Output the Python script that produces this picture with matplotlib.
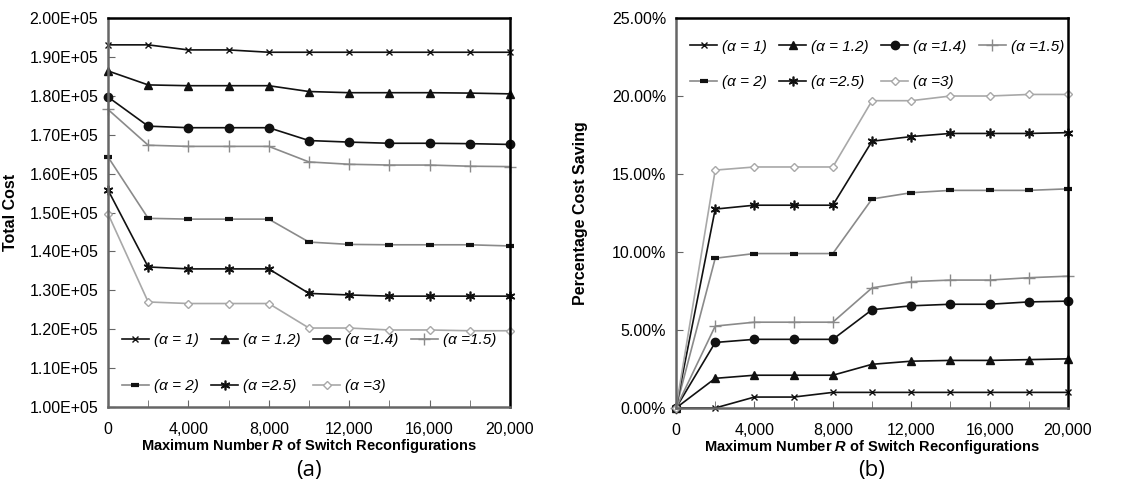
import matplotlib
matplotlib.use("Agg")
import matplotlib.pyplot as plt
from matplotlib.ticker import FuncFormatter, MultipleLocator

plt.rcParams['font.family'] = ['Liberation Sans', 'DejaVu Sans']
plt.rcParams['mathtext.fontset'] = 'custom'
plt.rcParams['mathtext.it'] = 'Liberation Sans:italic:bold'
plt.rcParams['mathtext.rm'] = 'Liberation Sans:bold'

R = [0, 2000, 4000, 6000, 8000, 10000, 12000, 14000, 16000, 18000, 20000]

labels = ["(α = 1)", "(α = 1.2)", "(α =1.4)", "(α =1.5)", "(α = 2)", "(α =2.5)", "(α =3)"]

cost_a1 = [1.931e5, 1.931e5, 1.918e5, 1.918e5, 1.912e5, 1.912e5, 1.912e5, 1.912e5, 1.912e5, 1.912e5, 1.912e5]
cost_a12 = [1.864e5, 1.828e5, 1.826e5, 1.826e5, 1.826e5, 1.811e5, 1.808e5, 1.808e5, 1.808e5, 1.807e5, 1.805e5]
cost_a14 = [1.797e5, 1.722e5, 1.718e5, 1.718e5, 1.718e5, 1.685e5, 1.681e5, 1.678e5, 1.678e5, 1.677e5, 1.675e5]
cost_a15 = [1.765e5, 1.673e5, 1.670e5, 1.670e5, 1.670e5, 1.630e5, 1.624e5, 1.622e5, 1.622e5, 1.619e5, 1.618e5]
cost_a2 = [1.643e5, 1.485e5, 1.483e5, 1.483e5, 1.483e5, 1.424e5, 1.418e5, 1.417e5, 1.417e5, 1.417e5, 1.414e5]
cost_a25 = [1.558e5, 1.360e5, 1.355e5, 1.355e5, 1.355e5, 1.292e5, 1.288e5, 1.285e5, 1.285e5, 1.285e5, 1.285e5]
cost_a3 = [1.497e5, 1.270e5, 1.266e5, 1.266e5, 1.266e5, 1.203e5, 1.203e5, 1.198e5, 1.198e5, 1.196e5, 1.196e5]

save_a1 = [0.0, 0.0, 0.7, 0.7, 1.0, 1.0, 1.0, 1.0, 1.0, 1.0, 1.0]
save_a12 = [0.0, 1.9, 2.1, 2.1, 2.1, 2.8, 3.0, 3.05, 3.05, 3.1, 3.15]
save_a14 = [0.0, 4.2, 4.4, 4.4, 4.4, 6.3, 6.55, 6.65, 6.65, 6.8, 6.85]
save_a15 = [0.0, 5.25, 5.5, 5.5, 5.5, 7.7, 8.1, 8.2, 8.2, 8.35, 8.45]
save_a2 = [0.0, 9.6, 9.9, 9.9, 9.9, 13.4, 13.8, 13.95, 13.95, 13.95, 14.05]
save_a25 = [0.0, 12.75, 13.0, 13.0, 13.0, 17.1, 17.4, 17.6, 17.6, 17.6, 17.65]
save_a3 = [0.0, 15.25, 15.45, 15.45, 15.45, 19.7, 19.7, 20.0, 20.0, 20.1, 20.1]

costs = [cost_a1, cost_a12, cost_a14, cost_a15, cost_a2, cost_a25, cost_a3]
savings = [save_a1, save_a12, save_a14, save_a15, save_a2, save_a25, save_a3]

styles = [
    dict(color='#111111', marker='x', ms=5, mew=1.0, mfc='#111111'),
    dict(color='#111111', marker='^', ms=6, mew=1.0, mfc='#111111'),
    dict(color='#111111', marker='o', ms=6, mew=1.0, mfc='#111111'),
    dict(color='#8a8a8a', marker='+', ms=8, mew=1.0, mfc='#8a8a8a'),
    dict(color='#8a8a8a', marker='_', ms=6, mew=3.0, mec='#111111'),
    dict(color='#111111', marker=(6, 2, 0), ms=7, mew=1.2, mfc='#111111'),
    dict(color='#a8a8a8', marker='D', ms=4, mew=1.0, mfc='white'),
]

fig = plt.figure(figsize=(11.45, 4.95), dpi=100)
ax1 = fig.add_axes([0.0943, 0.1778, 0.3511, 0.7858])
ax2 = fig.add_axes([0.5904, 0.1758, 0.3424, 0.7878])

def style_axes(ax):
    ax.set_xlim(0, 20000)
    ax.xaxis.set_major_locator(MultipleLocator(4000))
    ax.xaxis.set_minor_locator(MultipleLocator(2000))
    ax.xaxis.set_major_formatter(FuncFormatter(lambda v, p: f"{int(v):,}"))
    ax.tick_params(axis='both', which='both', direction='in', colors='#666666',
                   labelcolor='black', labelsize=11.5)
    ax.tick_params(axis='x', which='both', length=5, pad=11)
    ax.tick_params(axis='y', which='both', length=5, pad=7)
    for s in ['top', 'right']:
        ax.spines[s].set_color('black')
        ax.spines[s].set_linewidth(1.8)
    for s in ['left', 'bottom']:
        ax.spines[s].set_color('#666666')
        ax.spines[s].set_linewidth(1.8)
    ax.set_xlabel("Maximum Number $\\it{R}$ of Switch Reconfigurations",
                  fontsize=10.5, fontweight='bold', labelpad=0)
    ax.yaxis.set_label_coords(-0.224, 0.5)

lines1 = []
for ys, st, lab in zip(costs, styles, labels):
    l, = ax1.plot(R, ys, lw=1.2, label=lab, clip_on=False, **st)
    lines1.append(l)
ax1.set_ylim(1.0e5, 2.0e5)
ax1.yaxis.set_major_locator(MultipleLocator(0.1e5))
ax1.yaxis.set_major_formatter(FuncFormatter(lambda v, p: f"{v:.2E}"))
ax1.set_ylabel("Total Cost", fontsize=11.5, fontweight='bold')
style_axes(ax1)

lines2 = []
for ys, st, lab in zip(savings, styles, labels):
    l, = ax2.plot(R, ys, lw=1.2, label=lab, clip_on=False, **st)
    lines2.append(l)
ax2.set_ylim(0, 25)
ax2.yaxis.set_major_locator(MultipleLocator(5))
ax2.yaxis.set_major_formatter(FuncFormatter(lambda v, p: f"{v:.2f}%"))
ax2.set_ylabel("Percentage Cost Saving", fontsize=11.5, fontweight='bold')
style_axes(ax2)

order = [0, 4, 1, 5, 2, 6, 3]
leg_kw = dict(ncol=4, frameon=False, prop=dict(style='italic', size=11),
              handlelength=1.8, handletextpad=0.3, columnspacing=0.8)
ax1.legend([lines1[i] for i in order], [labels[i] for i in order],
           loc='lower left', bbox_to_anchor=(0.0, 0.0), labelspacing=2.1, **leg_kw)
ax2.legend([lines2[i] for i in order], [labels[i] for i in order],
           loc='upper left', bbox_to_anchor=(0.0, 0.98), labelspacing=1.4, **leg_kw)

fig.text(0.2698, 0.05, "(a)", ha='center', va='center', fontsize=16, family=['Open Sans', 'DejaVu Sans'])
fig.text(0.7616, 0.05, "(b)", ha='center', va='center', fontsize=16, family=['Open Sans', 'DejaVu Sans'])

fig.savefig("out.png", dpi=100)
